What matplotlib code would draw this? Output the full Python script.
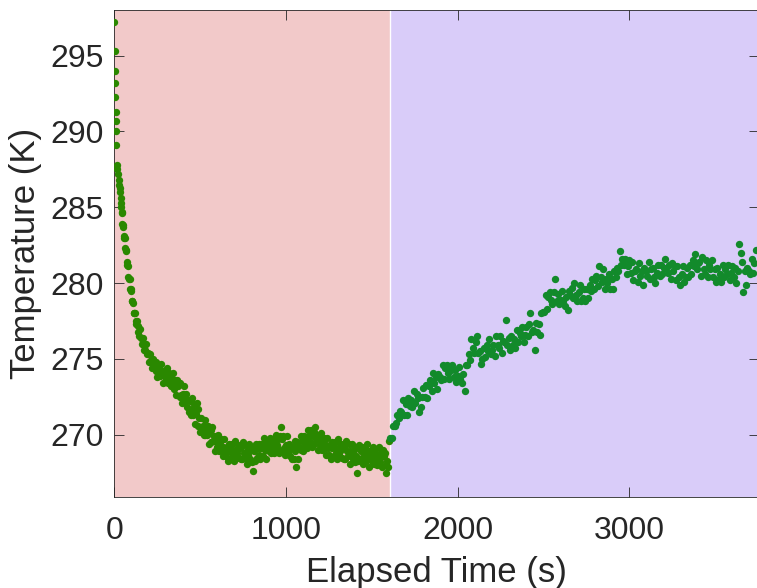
import matplotlib
matplotlib.use("Agg")
import matplotlib.pyplot as plt

# Cool-down phase: logger readings (time in s, temperature in K)
cool_time = [
    0, 2, 3, 5, 6, 8, 9, 10, 12, 16, 18, 21, 24, 27, 30, 33, 36, 38, 40, 42,
    45, 47, 50, 52, 55, 58, 61, 64, 67, 70, 73, 76, 79, 82, 86, 89, 92, 95, 98, 101,
    104, 108, 112, 116, 120, 124, 128, 132, 136,
    140, 145, 150, 155, 160, 165, 170, 175, 180, 185, 190, 195, 200, 205, 210, 215, 220, 225, 230, 235,
    240, 245, 250, 255, 260, 265, 270, 275, 280, 285, 290, 295, 300, 305, 310, 315, 320, 325, 330, 335,
    340, 345, 350, 355, 360, 365, 370, 375, 380, 385, 390, 395, 400, 405, 410, 415, 420, 425, 430, 435,
    440, 445, 450, 455, 460, 465, 470, 475, 480, 485, 490, 495, 500, 505, 510, 515, 520, 525, 530, 535,
    540, 545, 550, 555, 560, 565, 570, 575, 580, 585, 590, 595, 600, 605, 610, 615, 620, 625, 630, 635,
    640, 645, 650, 655, 660, 665, 670, 675, 680, 685, 690, 695, 700, 705, 710, 715, 720, 725, 730, 735,
    740, 745, 750, 755, 760, 765, 770, 775, 780, 785, 790, 795, 800, 805, 810, 815, 820, 825, 830, 835,
    840, 845, 850, 855, 860, 865, 870, 875, 880, 885, 890, 895, 900, 905, 910, 915, 920, 925, 930, 935,
    940, 945, 950, 955, 960, 965, 970, 975, 980, 985, 990, 995, 1000, 1005, 1010, 1015, 1020, 1025, 1030, 1035,
    1040, 1045, 1050, 1055, 1060, 1065, 1070, 1075, 1080, 1085, 1090, 1095, 1100, 1105, 1110, 1115, 1120, 1125, 1130, 1135,
    1140, 1145, 1150, 1155, 1160, 1165, 1170, 1175, 1180, 1185, 1190, 1195, 1200, 1205, 1210, 1215, 1220, 1225, 1230, 1235,
    1240, 1245, 1250, 1255, 1260, 1265, 1270, 1275, 1280, 1285, 1290, 1295, 1300, 1305, 1310, 1315, 1320, 1325, 1330, 1335,
    1340, 1345, 1350, 1355, 1360, 1365, 1370, 1375, 1380, 1385, 1390, 1395, 1400, 1405, 1410, 1415, 1420, 1425, 1430, 1435,
    1440, 1445, 1450, 1455, 1460, 1465, 1470, 1475, 1480, 1485, 1490, 1495, 1500, 1505, 1510, 1515, 1520, 1525, 1530, 1535,
    1540, 1545, 1550, 1555, 1560, 1565, 1570, 1575, 1580, 1585, 1590, 1595, 1600,
]
cool_temp = [
    297.2, 295.3, 294.0, 293.2, 292.3, 291.3, 290.7, 290.0, 289.1, 287.8, 287.5, 287.2, 286.8, 286.5, 286.3, 286.0, 285.6, 285.3, 285.0, 284.7,
    284.6, 283.9, 283.8, 283.7, 283.1, 283.0, 283.0, 282.3, 282.2, 282.1, 281.4, 281.2, 281.1, 280.4, 280.3, 280.3, 279.6, 279.6, 279.5, 278.8,
    278.8, 278.7, 278.0, 278.0, 278.0, 277.3, 277.5, 277.5, 276.8,
    277.2, 276.5, 277.0, 276.4, 276.0, 276.4, 275.6, 275.9, 275.6, 276.0, 275.3, 275.4, 274.8, 275.3, 274.8, 274.9, 274.4, 275.0, 274.4, 274.6,
    274.2, 274.8, 273.8, 274.4, 274.5, 273.9, 274.7, 274.0, 274.2, 273.4, 274.2, 273.9, 273.7, 274.4, 273.4, 274.0, 274.1, 273.5, 273.2, 273.7,
    274.1, 273.4, 273.0, 273.6, 272.6, 273.6, 273.2, 273.4, 272.5, 273.4, 272.6, 272.1, 272.7, 273.2, 272.2, 272.3, 272.7, 271.8, 272.3, 271.5,
    272.2, 271.3, 272.4, 271.7, 271.3, 272.0, 270.7, 271.4, 272.1, 271.7, 270.6, 271.1, 270.2, 271.1, 270.4, 270.6, 270.0, 271.0, 270.0, 270.4,
    270.0, 270.6, 269.4, 270.1, 270.3, 269.5, 270.5, 269.6, 269.9, 268.9, 269.9, 269.5, 269.2, 270.0, 268.9, 269.5, 269.7, 269.0, 268.6, 269.2,
    269.7, 269.0, 268.6, 269.2, 268.3, 269.4, 268.9, 269.2, 268.4, 269.4, 268.7, 268.3, 269.0, 269.6, 268.6, 268.8, 269.3, 268.5, 269.1, 268.4,
    269.2, 268.4, 269.5, 268.8, 268.5, 269.3, 268.1, 268.9, 268.7, 269.4, 268.4, 269.0, 268.2, 269.2, 267.6, 268.9, 268.3, 269.4, 268.5, 269.1,
    268.7, 269.4, 268.4, 269.1, 269.4, 268.6, 269.8, 269.0, 269.3, 268.4, 269.5, 269.2, 268.9, 269.8, 268.8, 269.5, 269.7, 269.1, 268.8, 269.5,
    270.0, 269.3, 269.1, 269.7, 268.8, 269.9, 270.5, 269.7, 268.9, 269.9, 269.1, 268.7, 269.3, 269.9, 268.8, 269.0, 269.4, 268.6, 269.2, 268.4,
    269.2, 268.4, 269.6, 268.9, 267.9, 269.5, 268.4, 269.2, 269.1, 269.9, 269.0, 269.6, 268.9, 269.9, 269.4, 269.7, 269.1, 270.3, 269.4, 269.9,
    269.5, 270.3, 269.2, 269.9, 270.2, 269.4, 270.5, 269.7, 270.0, 269.0, 270.0, 269.6, 269.3, 270.1, 269.0, 269.6, 269.8, 269.1, 268.7, 269.3,
    269.8, 269.1, 268.7, 269.3, 268.4, 269.5, 269.1, 269.4, 268.6, 269.5, 268.8, 268.4, 269.1, 269.7, 268.7, 268.9, 269.4, 268.5, 269.1, 268.4,
    269.2, 268.4, 269.6, 268.9, 268.6, 269.4, 268.1, 268.9, 268.7, 269.4, 268.4, 269.0, 268.2, 269.2, 268.6, 267.5, 268.3, 269.3, 268.4, 268.9,
    268.5, 269.2, 268.1, 268.8, 269.1, 268.3, 269.4, 268.6, 268.9, 267.9, 268.9, 268.6, 268.3, 269.2, 268.1, 268.8, 269.0, 268.4, 268.0, 268.7,
    269.2, 268.5, 268.2, 268.8, 267.9, 269.0, 268.6, 268.8, 268.0, 267.5, 268.3, 267.9, 269.6,
]

# Warm-up phase
warm_time = [
    1608, 1616, 1624, 1632, 1640, 1648, 1656, 1664, 1672, 1680, 1688, 1696, 1704, 1712, 1720, 1728, 1736, 1744, 1752, 1760, 1768, 1776, 1784, 1792, 1800,
    1808, 1816, 1824, 1832, 1840, 1848, 1856, 1864, 1872, 1880, 1888, 1896, 1904, 1912, 1920, 1928, 1936, 1944, 1952, 1960, 1968, 1976, 1984, 1992, 2000,
    2008, 2016, 2024, 2032, 2040, 2048, 2056, 2064, 2072, 2080, 2088, 2096, 2104, 2112, 2120, 2128, 2136, 2144, 2152, 2160, 2168, 2176, 2184, 2192, 2200,
    2208, 2216, 2224, 2232, 2240, 2248, 2256, 2264, 2272, 2280, 2288, 2296, 2304, 2312, 2320, 2328, 2336, 2344, 2352, 2360, 2368, 2376, 2384, 2392, 2400,
    2408, 2416, 2424, 2432, 2440, 2448, 2456, 2464, 2472, 2480, 2488, 2496, 2504, 2512, 2520, 2528, 2536, 2544, 2552, 2560, 2568, 2576, 2584, 2592, 2600,
    2608, 2616, 2624, 2632, 2640, 2648, 2656, 2664, 2672, 2680, 2688, 2696, 2704, 2712, 2720, 2728, 2736, 2744, 2752, 2760, 2768, 2776, 2784, 2792, 2800,
    2808, 2816, 2824, 2832, 2840, 2848, 2856, 2864, 2872, 2880, 2888, 2896, 2904, 2912, 2920, 2928, 2936, 2944, 2952, 2960, 2968, 2976, 2984, 2992, 3000,
    3008, 3016, 3024, 3032, 3040, 3048, 3056, 3064, 3072, 3080, 3088, 3096, 3104, 3112, 3120, 3128, 3136, 3144, 3152, 3160, 3168, 3176, 3184, 3192, 3200,
    3208, 3216, 3224, 3232, 3240, 3248, 3256, 3264, 3272, 3280, 3288, 3296, 3304, 3312, 3320, 3328, 3336, 3344, 3352, 3360, 3368, 3376, 3384, 3392, 3400,
    3408, 3416, 3424, 3432, 3440, 3448, 3456, 3464, 3472, 3480, 3488, 3496, 3504, 3512, 3520, 3528, 3536, 3544, 3552, 3560, 3568, 3576, 3584, 3592, 3600,
    3608, 3616, 3624, 3632, 3640, 3648, 3656, 3664, 3672, 3680, 3688, 3696, 3704, 3712, 3720, 3728, 3736,
]
warm_temp = [
    269.8, 269.8, 270.6, 270.6, 270.8, 271.3, 271.1, 271.6, 271.5, 272.3, 271.3, 272.0, 271.3, 272.4, 271.9, 272.3, 271.8, 272.9, 272.1, 272.7, 272.4, 271.5, 271.8, 272.5, 273.1,
    272.5, 273.3, 272.4, 273.2, 273.6, 272.9, 274.1, 273.4, 273.8, 273.0, 274.0, 273.8, 273.6, 274.6, 273.7, 274.4, 274.6, 274.1, 273.7, 274.3, 274.6, 273.8, 274.3, 273.5, 273.9,
    274.5, 273.7, 273.4, 274.0, 272.9, 274.6, 274.6, 275.3, 274.9, 276.3, 275.7, 275.4, 276.1, 276.5, 275.4, 275.5, 274.7, 275.0, 275.7, 275.1, 275.9, 275.5, 276.3, 275.3, 275.6,
    275.9, 275.2, 276.5, 275.9, 275.7, 276.5, 275.4, 276.2, 276.1, 277.6, 275.9, 276.4, 275.6, 276.5, 275.9, 276.3, 275.7, 276.9, 276.1, 276.7, 276.5, 277.1, 276.1, 276.6, 277.1,
    276.5, 277.3, 278.0, 276.8, 276.9, 275.6, 277.4, 276.8, 277.3, 276.6, 278.0, 278.1, 278.1, 279.2, 278.3, 279.1, 279.4, 278.9, 278.6, 279.4, 280.3, 278.8, 279.3, 278.6, 278.9,
    279.5, 278.8, 278.5, 279.1, 278.2, 279.5, 279.2, 279.7, 279.0, 280.0, 279.2, 278.8, 279.4, 279.9, 278.8, 279.0, 279.6, 278.8, 279.6, 279.0, 279.9, 279.5, 280.3, 279.6, 280.2,
    280.5, 279.8, 281.1, 280.4, 280.1, 280.9, 279.6, 280.3, 280.0, 280.6, 279.6, 280.3, 279.6, 280.8, 280.4, 281.0, 280.8, 282.1, 281.2, 281.6, 281.2, 281.6, 280.6, 281.1, 281.5,
    280.7, 281.4, 280.2, 280.8, 280.9, 280.1, 281.3, 280.5, 280.8, 279.9, 281.0, 280.8, 280.5, 281.4, 280.3, 280.9, 281.0, 280.4, 280.0, 280.7, 281.2, 280.5, 281.2, 280.6, 281.0,
    281.6, 281.0, 280.7, 281.2, 280.3, 281.3, 280.8, 281.1, 280.2, 281.1, 280.4, 279.9, 280.6, 281.1, 280.1, 280.4, 281.0, 280.4, 281.2, 280.6, 281.5, 281.1, 281.9, 280.9, 281.3,
    281.4, 280.5, 281.7, 280.9, 280.6, 281.5, 280.4, 281.2, 280.9, 281.5, 280.4, 280.9, 280.1, 281.0, 280.3, 280.6, 280.1, 281.2, 280.4, 280.9, 280.6, 281.2, 280.2, 280.7, 281.1,
    280.4, 281.0, 280.0, 280.8, 282.6, 282.0, 281.4, 279.4, 280.8, 279.9, 281.0, 280.8, 280.6, 281.6, 280.7, 281.3, 282.2,
]

# Shaded phases: [start, end] in seconds
phase_spans = [(0, 1605), (1605, 3755)]
phase_fill = ["#F2C9C9", "#D9CCF9"]
dot_colors = ["#2A8800", "#128A2B"]

plt.rcParams["font.family"] = ["Liberation Sans", "DejaVu Sans"]
text_color = "#262626"

fig = plt.figure(figsize=(7.57, 5.88), dpi=100)
ax = fig.add_axes([0.1511, 0.1548, 0.8515, 0.828])

for (lo, hi), c in zip(phase_spans, phase_fill):
    ax.axvspan(lo, hi, color=c, lw=0, zorder=0)
ax.axvline(phase_spans[1][0], color="white", lw=1, zorder=1)

ax.scatter(cool_time, cool_temp, s=28, color=dot_colors[0], lw=0, zorder=3)
ax.scatter(warm_time, warm_temp, s=28, color=dot_colors[1], lw=0, zorder=3)

ax.set_xlim(0, 3755)
ax.set_ylim(265.9, 298.0)
ax.set_xticks([0, 1000, 2000, 3000])
ax.set_yticks([270, 275, 280, 285, 290, 295])
ax.tick_params(direction="in", top=True, right=True, length=7, width=0.6,
               color=text_color, labelcolor=text_color, labelsize=23)
ax.tick_params(axis="x", pad=14)
ax.tick_params(axis="y", pad=8)
for sp in ax.spines.values():
    sp.set_color(text_color)
    sp.set_linewidth(0.6)

ax.set_xlabel("Elapsed Time (s)", fontsize=25, color=text_color, labelpad=7)
ax.set_ylabel("Temperature (K)", fontsize=25, color=text_color, labelpad=6)

fig.savefig("out.png", dpi=100)
